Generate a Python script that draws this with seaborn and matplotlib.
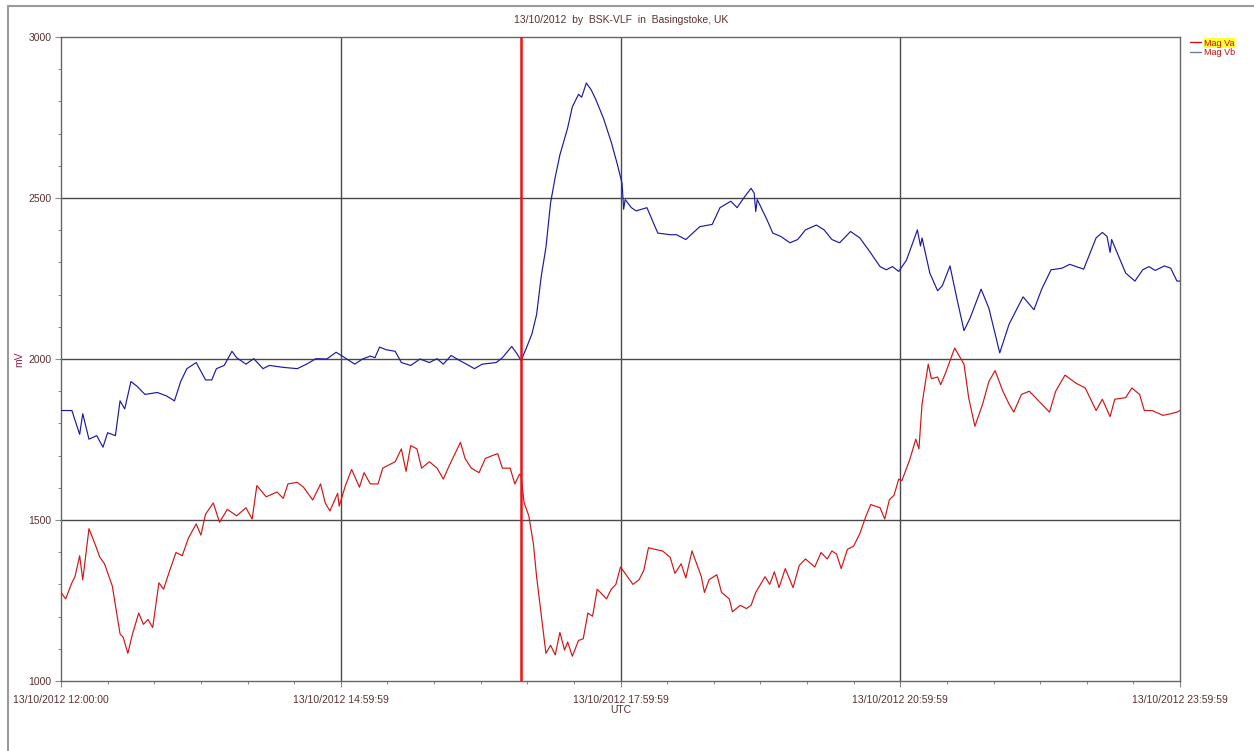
import matplotlib
matplotlib.use("Agg")
import matplotlib.pyplot as plt
from matplotlib.lines import Line2D
from matplotlib.ticker import MultipleLocator, FixedLocator
import seaborn as sns
import pandas as pd

# ---- data (minutes after 12:00:00 UTC, mV) ----
vb_minutes = [0, 7, 12, 14, 18, 23, 27, 30, 35, 38, 41, 45, 49, 54, 62, 68, 73, 77, 81, 87,
              93, 97, 100, 105, 110, 113, 119, 124, 130, 134, 143, 152, 158, 164, 171, 177,
              181, 189, 194, 199, 202, 205, 209, 215, 219, 225, 231, 237, 242, 246, 251, 257,
              262, 266, 271, 280, 284, 290, 293, 296, 299, 303, 306, 309, 312, 315, 318, 321,
              324, 326, 329, 333, 335, 338, 341, 344, 349, 354, 358, 361, 362, 363, 367, 370,
              377, 384, 392, 396, 402, 411, 419, 424, 431, 435, 440, 444, 446, 447, 448, 454,
              458, 463, 469, 474, 479, 486, 491, 496, 501, 508, 514, 520, 527, 531, 535, 539,
              544, 548, 551, 553, 554, 559, 564, 567, 572, 576, 581, 585, 592, 597, 604, 610,
              619, 626, 631, 637, 644, 649, 658, 666, 670, 673, 675, 676, 685, 691, 696, 700,
              704, 710, 714, 718, 719.98]
vb_values = [1840, 1840, 1766, 1830, 1751, 1762, 1726, 1771, 1762, 1870, 1845, 1930, 1915, 1890,
             1896, 1885, 1870, 1930, 1970, 1989, 1935, 1935, 1970, 1980, 2024, 2004, 1984, 2001,
             1970, 1980, 1974, 1970, 1984, 2001, 2000, 2021, 2009, 1984, 2000, 2009, 2004, 2037,
             2029, 2024, 1989, 1980, 2000, 1989, 2001, 1984, 2011, 1994, 1981, 1970, 1984, 1989,
             2004, 2039, 2019, 1996, 2029, 2078, 2138, 2257, 2346, 2485, 2565, 2634, 2684, 2718,
             2783, 2822, 2813, 2857, 2837, 2807, 2748, 2674, 2604, 2545, 2465, 2495, 2470, 2460,
             2470, 2391, 2386, 2386, 2371, 2411, 2418, 2470, 2490, 2470, 2505, 2530, 2515, 2458,
             2495, 2435, 2391, 2381, 2361, 2371, 2401, 2416, 2401, 2371, 2361, 2396, 2376, 2336,
             2287, 2277, 2287, 2272, 2307, 2361, 2401, 2351, 2376, 2267, 2212, 2227, 2289, 2197,
             2088, 2128, 2217, 2158, 2019, 2108, 2193, 2153, 2217, 2277, 2282, 2294, 2279, 2376,
             2393, 2381, 2331, 2371, 2267, 2242, 2277, 2287, 2275, 2289, 2282, 2242, 2242]

va_minutes = [0, 3, 7, 9, 12, 14, 18, 22, 25, 28, 33, 35, 38, 40, 43, 46, 50, 53, 56, 59, 63,
              66, 70, 74, 78, 82, 87, 90, 93, 98, 102, 107, 113, 119, 123, 126, 132, 139, 143,
              146, 152, 156, 162, 167, 170, 173, 178, 179, 183, 187, 192, 195, 199, 204, 207,
              211, 215, 219, 222, 225, 229, 232, 237, 242, 246, 250, 257, 260, 264, 269, 273,
              278, 281, 284, 289, 292, 295, 296, 298, 301, 304, 306, 309, 312, 315, 318, 321,
              324, 326, 329, 333, 336, 339, 342, 345, 351, 354, 357, 360, 363, 368, 372, 375,
              378, 382, 387, 392, 395, 399, 402, 406, 412, 414, 417, 422, 425, 430, 432, 437,
              441, 444, 447, 453, 456, 459, 462, 466, 471, 475, 479, 485, 489, 493, 496, 499,
              502, 506, 510, 514, 518, 521, 527, 530, 533, 536, 539, 541, 546, 550, 552, 554,
              558, 560, 564, 566, 569, 575, 578, 581, 584, 588, 593, 597, 601, 606, 610, 613,
              618, 623, 629, 636, 640, 646, 653, 659, 661, 666, 670, 675, 678, 685, 689, 694,
              697, 702, 709, 714, 718, 719.98]
va_values = [1275, 1255, 1305, 1324, 1389, 1314, 1473, 1424, 1384, 1364, 1295, 1235, 1146, 1136,
             1086, 1146, 1211, 1176, 1191, 1166, 1305, 1285, 1344, 1399, 1389, 1444, 1488, 1453,
             1518, 1553, 1493, 1533, 1513, 1538, 1503, 1607, 1572, 1587, 1567, 1612, 1617, 1602,
             1562, 1612, 1553, 1528, 1583, 1543, 1607, 1657, 1602, 1647, 1612, 1612, 1661, 1671,
             1681, 1721, 1651, 1731, 1721, 1661, 1681, 1661, 1627, 1671, 1741, 1691, 1661, 1647,
             1691, 1701, 1706, 1661, 1661, 1612, 1642, 1637, 1553, 1513, 1424, 1324, 1205, 1086,
             1111, 1081, 1151, 1096, 1121, 1077, 1126, 1131, 1211, 1201, 1285, 1255, 1285, 1300,
             1354, 1334, 1300, 1315, 1344, 1414, 1409, 1404, 1384, 1334, 1364, 1320, 1404, 1324,
             1275, 1315, 1330, 1275, 1255, 1215, 1235, 1225, 1235, 1275, 1324, 1300, 1339, 1290,
             1349, 1290, 1359, 1379, 1354, 1399, 1379, 1404, 1394, 1349, 1409, 1419, 1458, 1513,
             1548, 1538, 1503, 1563, 1577, 1627, 1622, 1686, 1751, 1721, 1860, 1984, 1939, 1944,
             1920, 1955, 2034, 2009, 1984, 1880, 1791, 1860, 1930, 1964, 1900, 1860, 1835, 1890,
             1900, 1870, 1835, 1900, 1950, 1925, 1910, 1890, 1840, 1875, 1821, 1875, 1880, 1910,
             1890, 1840, 1840, 1825, 1830, 1835, 1840]

event_minute = 296  # red marker line ~16:56 UTC
x_tick_minutes = [0, 180, 360, 540, 719.98]
x_tick_labels = ["13/10/2012 12:00:00", "13/10/2012 14:59:59", "13/10/2012 17:59:59",
                 "13/10/2012 20:59:59", "13/10/2012 23:59:59"]
y_ticks = [1000, 1500, 2000, 2500, 3000]
title_text = "13/10/2012  by  BSK-VLF  in  Basingstoke, UK"
series_labels = ["Mag Va", "Mag Vb"]

# ---- plot ----
sns.set_style("white")
plt.rcParams['font.family'] = ['Liberation Sans', 'DejaVu Sans']

fig = plt.figure(figsize=(12.54, 7.51), dpi=100)
ax = fig.add_axes([61 / 1254, 1 - 681 / 751, (1180 - 61) / 1254, (681 - 37) / 751])

df_a = pd.DataFrame({"t": va_minutes, "mV": va_values})
df_b = pd.DataFrame({"t": vb_minutes, "mV": vb_values})

grid_c = "#4a4a4a"
for v in y_ticks[1:-1]:
    ax.axhline(v, color=grid_c, lw=1.0, zorder=1)
for v in x_tick_minutes[1:-1]:
    ax.axvline(v, color=grid_c, lw=1.0, zorder=1)

red_c = "#d01515"
blue_c = "#1a1aa0"
sns.lineplot(data=df_b, x="t", y="mV", color=blue_c, lw=0.85, ax=ax, estimator=None, zorder=3)
sns.lineplot(data=df_a, x="t", y="mV", color=red_c, lw=0.85, ax=ax, estimator=None, zorder=3)
ax.axvline(event_minute, color="#ee1111", lw=1.8, zorder=4)

ax.set_xlim(0, 719.98)
ax.set_ylim(1000, 3000)

text_c = "#5a3030"
ax.xaxis.set_major_locator(FixedLocator(x_tick_minutes))
ax.set_xticklabels(x_tick_labels)
ax.xaxis.set_minor_locator(MultipleLocator(30))
ax.set_yticks(y_ticks)
ax.set_yticklabels([str(v) for v in y_ticks])
ax.yaxis.set_minor_locator(MultipleLocator(100))
ax.tick_params(axis="both", which="major", direction="out", length=4, width=0.8,
               color="#888888", labelsize=7.5, labelcolor=text_c, pad=3)
ax.tick_params(axis="both", which="minor", direction="out", length=2.5, width=0.7,
               color="#888888")
ax.tick_params(axis="x", which="major", pad=6)
ax.tick_params(left=True, bottom=True, which="both")

ax.set_xlabel("UTC", fontsize=7.5, color=text_c, labelpad=0)
ax.set_ylabel("mV", fontsize=7.5, color="#8a2050", labelpad=2)
ax.yaxis.set_label_coords(-0.033, 0.5)

for sp in ax.spines.values():
    sp.set_color("#666666")
    sp.set_linewidth(1.0)

fig.text(0.495, 1 - 20 / 751, title_text, fontsize=7.5, color=text_c, ha="center", va="center")

handles = [Line2D([0], [0], color=red_c, lw=1.0), Line2D([0], [0], color="#6878a8", lw=1.0)]
leg = ax.legend(handles, series_labels, loc="upper left", bbox_to_anchor=(1.004, 1.006),
                frameon=False, fontsize=6.5, handlelength=1.2, handletextpad=0.4,
                labelspacing=0.1, borderaxespad=0.2)
for t in leg.get_texts():
    t.set_color("#c01010")
leg.get_texts()[0].set_bbox(dict(facecolor="#ffff33", edgecolor="none", pad=0.3))

# screenshot frame
fig.add_artist(Line2D([8 / 1254, 8 / 1254], [0, 1 - 6 / 751], transform=fig.transFigure,
                      color="#9a9a9a", lw=1.5))
fig.add_artist(Line2D([8 / 1254, 1], [1 - 6 / 751, 1 - 6 / 751], transform=fig.transFigure,
                      color="#9a9a9a", lw=1.5))

fig.savefig("out.png", dpi=100)
